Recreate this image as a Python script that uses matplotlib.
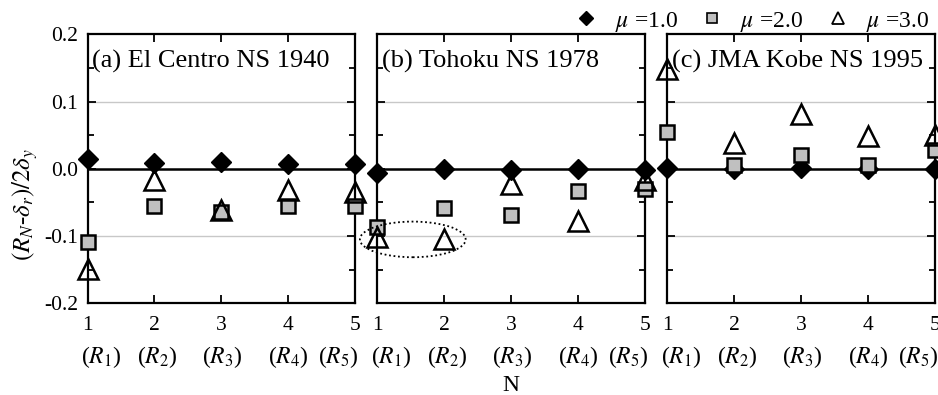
import matplotlib
matplotlib.use("Agg")
import matplotlib.pyplot as plt
from matplotlib.lines import Line2D
from matplotlib.patches import Ellipse
from matplotlib.ticker import MultipleLocator

plt.rcParams['font.family'] = ['Liberation Serif', 'DejaVu Serif']
plt.rcParams['mathtext.fontset'] = 'stix'

# ---------------- data ----------------
N = [1, 2, 3, 4, 5]
r_labels = [r"($R_1$)", r"($R_2$)", r"($R_3$)", r"($R_4$)", r"($R_5$)"]
panel_titles = ["(a) El Centro NS 1940", "(b) Tohoku NS 1978", "(c) JMA Kobe NS 1995"]
series_labels = [r"$\mu$ =1.0", r"$\mu$ =2.0", r"$\mu$ =3.0"]

elcentro_mu1 = [0.015, 0.009, 0.010, 0.0075, 0.0075]
elcentro_mu2 = [-0.109, -0.056, -0.064, -0.056, -0.056]
elcentro_mu3 = [-0.149, -0.016, -0.062, -0.031, -0.035]

tohoku_mu1 = [-0.006, 0.0, -0.0025, -0.001, -0.002]
tohoku_mu2 = [-0.086, -0.059, -0.069, -0.033, -0.030]
tohoku_mu3 = [-0.101, -0.105, -0.022, -0.078, -0.016]

kobe_mu1 = [0.001, -0.001, 0.001, -0.001, 0.0]
kobe_mu2 = [0.055, 0.006, 0.020, 0.005, 0.028]
kobe_mu3 = [0.148, 0.038, 0.081, 0.049, 0.050]

panels = [
    (elcentro_mu1, elcentro_mu2, elcentro_mu3),
    (tohoku_mu1, tohoku_mu2, tohoku_mu3),
    (kobe_mu1, kobe_mu2, kobe_mu3),
]

# ---------------- layout ----------------
W, H = 938, 395
fig = plt.figure(figsize=(W / 100, H / 100), dpi=100)
lefts = [87.5, 377.3, 667.3]
aw, ah = 267.7, 269.0
abot = H - 303.3
FS_TICK = 15.5
FS_TITLE = 19
FS_LAB = 17

# x offsets for the (R_n) labels (layout only)
r_offsets = [0.21, 0.04, 0.01, 0.0, -0.25]

styles = [
    dict(marker='D', ms=10.5, mfc='black', mec='black', mew=1.0, zorder=3),
    dict(marker='s', ms=10, mfc='#c0c0c0', mec='black', mew=1.8, zorder=4),
    dict(marker='^', ms=14, mfc='none', mec='black', mew=1.8, zorder=5),
]

axes = []
for i, (left, data) in enumerate(zip(lefts, panels)):
    ax = fig.add_axes([left / W, abot / H, aw / W, ah / H])
    axes.append(ax)
    ax.set_xlim(1, 5)
    ax.set_ylim(-0.2, 0.2)
    ax.set_xticks(N)
    ax.set_xticklabels([str(n) for n in N], fontsize=FS_TICK)
    ax.yaxis.set_major_locator(MultipleLocator(0.1))
    ax.yaxis.set_minor_locator(MultipleLocator(0.05))
    ax.tick_params(axis='both', which='major', direction='in', length=6, width=1.3,
                   top=True, right=True, labelsize=FS_TICK)
    ax.tick_params(axis='both', which='minor', direction='in', length=4, width=1.3,
                   left=True, right=True)
    ax.tick_params(axis='x', pad=9)
    ax.tick_params(axis='y', pad=7)
    if i == 0:
        ax.set_yticklabels([f"{v:.1f}" for v in ax.get_yticks()])
    else:
        ax.set_yticklabels([])
    for sp in ax.spines.values():
        sp.set_linewidth(1.6)
    for g in (-0.1, 0.1):
        ax.axhline(g, color='#c8c8c8', lw=1.0, zorder=1)
    ax.axhline(0.0, color='black', lw=1.8, zorder=2)
    for vals, st in zip(data, styles):
        ax.plot(N, vals, linestyle='none', clip_on=False, **st)
    ax.text(0.016, 0.898, panel_titles[i], transform=ax.transAxes, fontsize=FS_TITLE,
            ha='left', va='center', zorder=6)
    tr = ax.get_xaxis_transform()
    for n, lab, off in zip(N, r_labels, r_offsets):
        ax.text(n + off, -0.198, lab, transform=tr, fontsize=FS_LAB, ha='center', va='center')

axes[1].set_xlabel("N", fontsize=FS_LAB, labelpad=29)

# dotted ellipse in panel (b)
ell = Ellipse((1.53, -0.105), width=1.58, height=0.053, fill=False, ls=(0, (1, 1.5)),
              lw=1.3, color='black', clip_on=False, zorder=6)
axes[1].add_patch(ell)

# y label
fig.text(25 / W, 1 - 205 / H, r"$(R_N$-$\delta_r)/2\delta_y$", rotation=90,
         fontsize=18, ha='center', va='center')

# legend
handles = [
    Line2D([], [], linestyle='none', marker='D', ms=7, mfc='black', mec='black'),
    Line2D([], [], linestyle='none', marker='s', ms=6.5, mfc='#c0c0c0', mec='black', mew=1.2),
    Line2D([], [], linestyle='none', marker='^', ms=8.5, mfc='none', mec='black', mew=1.3),
]
fig.legend(handles, series_labels, loc='center right', ncol=3, frameon=False,
           bbox_to_anchor=(929 / W, 1 - 21.7 / H), borderaxespad=0, borderpad=0,
           handlelength=1.0, handletextpad=0.7, columnspacing=0.95, fontsize=FS_LAB)

fig.savefig("out.png", dpi=100)
